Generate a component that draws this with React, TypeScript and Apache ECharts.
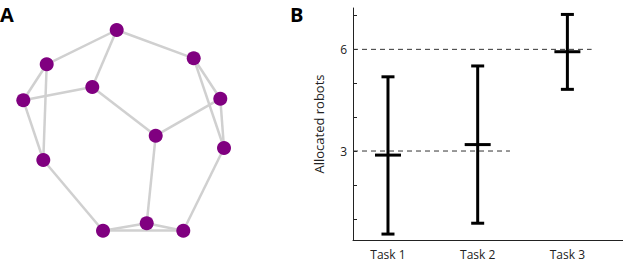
import React, { useEffect, useRef } from "react";
import * as echarts from "echarts";

// Panel A: network nodes (pixel-like layout coordinates) and edges
const nodeX = [116.7, 193.7, 46.7, 92.3, 23.3, 220.3, 155.7, 224, 43.3, 146.7, 103, 183.3];
const nodeY = [30, 58.3, 64.3, 87, 100.3, 98.7, 135.7, 148, 160, 223.3, 230.7, 230.7];
const edgeSource = [0, 0, 0, 2, 2, 4, 4, 3, 6, 6, 1, 1, 5, 7, 8, 10, 10, 9];
const edgeTarget = [2, 1, 3, 4, 8, 3, 8, 6, 5, 9, 5, 7, 7, 11, 10, 9, 11, 11];

// Panel B: allocated robots per task
const taskNames = ["Task 1", "Task 2", "Task 3"];
const taskPos = [1, 2, 3];
const taskLow = [0.55, 0.87, 4.82];
const taskHigh = [5.19, 5.51, 7.03];
const taskMean = [2.88, 3.19, 5.93];
const targetLevels = [3, 6];
const targetEnds = [2.36, 3.27];
const yTicks = [1, 2, 3, 4, 5, 6, 7];
const yLabels = [3, 6];

const FONT = "Open Sans";

export default function App() {
  const ref = useRef<HTMLDivElement>(null);
  useEffect(() => {
    const chart = echarts.init(ref.current!, null, { renderer: "svg" });
    const xMin = 0.61;
    const option: any = {
      animation: false,
      textStyle: { fontFamily: FONT },
      graphic: [
        { type: "text", left: 0, top: 4, style: { text: "A", font: `bold 20px '${FONT}'`, fill: "#000" } },
        { type: "text", left: 290, top: 4, style: { text: "B", font: `bold 20px '${FONT}'`, fill: "#000" } },
      ],
      grid: [
        { left: 0, top: 0, width: 260, height: 263 },
        { left: 353, top: 8, width: 270, height: 232 },
      ],
      xAxis: [
        { type: "value", gridIndex: 0, min: 0, max: 260, show: false },
        {
          type: "value",
          gridIndex: 1,
          min: xMin,
          max: 3.62,
          axisLine: { show: true, lineStyle: { color: "#222", width: 1 } },
          axisTick: { show: false },
          splitLine: { show: false },
          axisLabel: {
            customValues: taskPos,
            formatter: (v: number) => taskNames[Math.round(v) - 1],
            color: "#222",
            fontSize: 12,
            margin: 8,
            fontFamily: FONT,
          },
        },
      ],
      yAxis: [
        { type: "value", gridIndex: 0, min: 0, max: 263, inverse: true, show: false },
        {
          type: "value",
          gridIndex: 1,
          min: 0.375,
          max: 7.22,
          name: "Allocated robots",
          nameLocation: "middle",
          nameRotate: 90,
          nameGap: 28,
          nameTextStyle: { fontSize: 13, color: "#222", fontFamily: FONT },
          axisLine: { show: true, lineStyle: { color: "#222", width: 1 } },
          axisTick: { show: true, inside: true, length: 4, customValues: yTicks, lineStyle: { color: "#222" } },
          splitLine: { show: false },
          axisLabel: { customValues: yLabels, color: "#222", fontSize: 12, margin: 6, fontFamily: FONT },
        },
      ],
      series: [
        {
          type: "graph",
          coordinateSystem: "cartesian2d",
          xAxisIndex: 0,
          yAxisIndex: 0,
          symbol: "circle",
          symbolSize: 14,
          itemStyle: { color: "#800080" },
          lineStyle: { color: "#d0d0d0", width: 2.5, opacity: 1 },
          label: { show: false },
          data: nodeX.map((x, i) => ({ name: "n" + i, value: [x, nodeY[i]] })),
          links: edgeSource.map((s, i) => ({ source: s, target: edgeTarget[i] })),
        },
        ...targetLevels.map((lvl, i) => ({
          type: "line",
          xAxisIndex: 1,
          yAxisIndex: 1,
          symbol: "none",
          silent: true,
          lineStyle: { color: "#333", width: 1, type: [5, 4] },
          data: [
            [xMin, lvl],
            [targetEnds[i], lvl],
          ],
        })),
        {
          type: "custom",
          xAxisIndex: 1,
          yAxisIndex: 1,
          encode: { x: 0, y: [1, 2] },
          data: taskPos.map((p, i) => [p, taskLow[i], taskHigh[i], taskMean[i]]),
          renderItem: (params: any, api: any) => {
            const x = api.value(0);
            const lo = api.coord([x, api.value(1)]);
            const hi = api.coord([x, api.value(2)]);
            const m = api.coord([x, api.value(3)]);
            const st = { stroke: "#000", lineWidth: 3 };
            const cap = 6.5;
            const mh = 13;
            return {
              type: "group",
              children: [
                { type: "line", shape: { x1: hi[0], y1: hi[1], x2: lo[0], y2: lo[1] }, style: st },
                { type: "line", shape: { x1: hi[0] - cap, y1: hi[1], x2: hi[0] + cap, y2: hi[1] }, style: st },
                { type: "line", shape: { x1: lo[0] - cap, y1: lo[1], x2: lo[0] + cap, y2: lo[1] }, style: st },
                { type: "line", shape: { x1: m[0] - mh, y1: m[1], x2: m[0] + mh, y2: m[1] }, style: st },
              ],
            };
          },
        },
      ],
    };
    chart.setOption(option);
    return () => chart.dispose();
  }, []);
  return (
    <div
      ref={ref}
      style={{ position: "fixed", left: 0, top: 0, width: 623, height: 263, background: "#fff" }}
    />
  );
}
